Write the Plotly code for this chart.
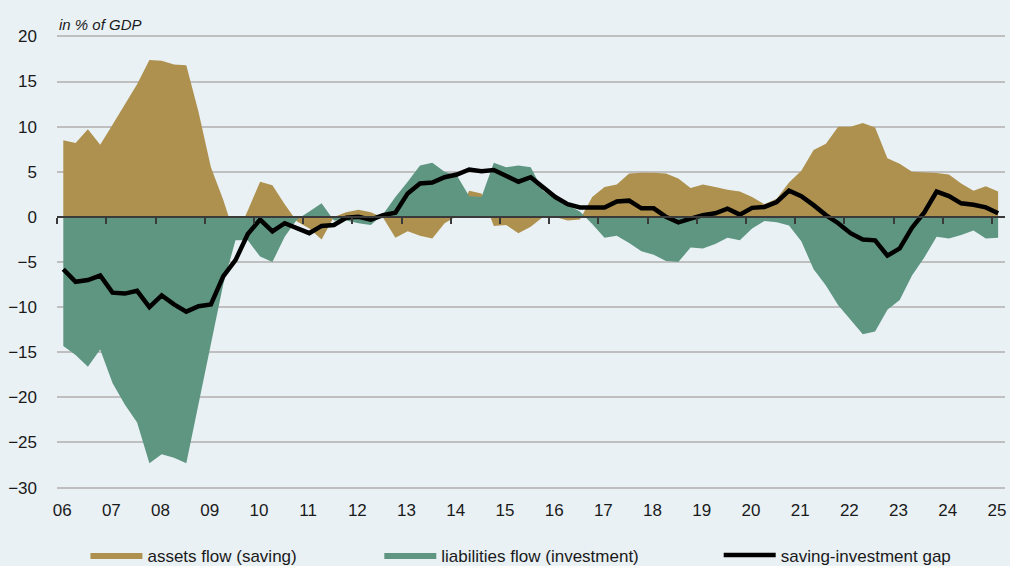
import plotly.graph_objects as go

# ---------------- data (quarterly, 2006Q1 .. 2025Q1, % of GDP) ----------------
start_year = 2006
n_quarters = 77
quarter_labels = [f"{start_year + i // 4}Q{i % 4 + 1}" for i in range(n_quarters)]

assets_flow = [
    8.5, 8.2, 9.7, 8.0, 10.2, 12.4, 14.7, 17.4, 17.3, 16.9, 16.8, 11.6, 5.5, 1.9,
    -2.3, 0.7, 3.9, 3.5, 1.4, -0.5, -1.3, -2.5, 0.0, 0.5, 0.8, 0.5, -0.1, -2.3,
    -1.6, -2.1, -2.4, -0.7, 0.1, 2.9, 2.6, -1.0, -0.9, -1.8, -1.1, 0.0, 0.0, -0.4,
    -0.3, 2.2, 3.3, 3.6, 4.8, 4.9, 4.9, 4.8, 4.25, 3.2, 3.6, 3.3, 3.0, 2.8, 2.2,
    1.4, 2.0, 3.8, 5.1, 7.4, 8.1, 10.0, 10.0, 10.4, 9.9, 6.5, 5.9, 5.0, 4.95,
    4.85, 4.7, 3.7, 2.9, 3.4, 2.8,
]
liabilities_flow = [
    -14.3, -15.3, -16.6, -14.7, -18.4, -20.8, -22.8, -27.3, -26.3, -26.7, -27.3,
    -20.7, -14.1, -7.5, -2.6, -2.6, -4.4, -5.0, -2.2, -0.3, 0.6, 1.5, -0.4, -0.4,
    -0.7, -0.9, 0.3, 2.2, 3.9, 5.7, 6.0, 5.0, 4.6, 2.3, 2.2, 6.0, 5.5, 5.7, 5.5,
    2.9, 2.0, 1.3, 0.6, -0.8, -2.3, -2.1, -2.9, -3.8, -4.2, -4.9, -5.0, -3.4,
    -3.5, -3.0, -2.3, -2.6, -1.3, -0.45, -0.6, -0.95, -2.7, -5.8, -7.6, -9.8,
    -11.4, -13.0, -12.7, -10.3, -9.2, -6.5, -4.5, -2.2, -2.4, -2.0, -1.5, -2.4,
    -2.3,
]
saving_investment_gap = [
    -5.8, -7.2, -7.0, -6.5, -8.4, -8.5, -8.2, -10.0, -8.7, -9.7, -10.5, -9.9,
    -9.7, -6.6, -4.8, -1.9, -0.3, -1.6, -0.7, -1.2, -1.8, -1.0, -0.9, -0.1, 0.0,
    -0.3, 0.2, 0.45, 2.6, 3.7, 3.8, 4.4, 4.7, 5.25, 5.05, 5.2, 4.5, 3.9, 4.4,
    3.3, 2.2, 1.4, 1.05, 1.05, 1.05, 1.7, 1.8, 0.95, 0.95, 0.0, -0.6, -0.2, 0.2,
    0.4, 0.9, 0.25, 1.0, 1.1, 1.65, 2.9, 2.3, 1.3, 0.2, -0.7, -1.8, -2.5, -2.6,
    -4.3, -3.5, -1.2, 0.5, 2.8, 2.3, 1.5, 1.35, 1.05, 0.4,
]

tick_years = list(range(2006, 2026))
tick_labels = [f"{y % 100:02d}" for y in tick_years]
y_ticks = [20, 15, 10, 5, 0, -5, -10, -15, -20, -25, -30]

series_names = ["assets flow (saving)", "liabilities flow (investment)",
                "saving-investment gap"]

# ---------------- styles ----------------
GOLD = "#AE914F"
TEAL = "#5F9682"
BG = "#E9F1F5"
GRID = "#BFBFBF"
TXT = "#1a1a1a"
FONT = "Liberation Sans, Arial, sans-serif"

# quarter mid-points in fractional years
x_vals = [start_year + (i + 0.5) / 4 for i in range(n_quarters)]

y_min, y_max = -30.6, 20.6
x_min, x_max = 2005.997, 2025.265
zero_pos = (0 - y_min) / (y_max - y_min)

fig = go.Figure()
fig.add_trace(go.Scatter(
    x=x_vals, y=assets_flow, name=series_names[0], mode="lines",
    fill="tozeroy", fillcolor=GOLD, line=dict(width=0, color=GOLD),
    text=quarter_labels, hoverinfo="text+y", legend="legend",
))
fig.add_trace(go.Scatter(
    x=x_vals, y=liabilities_flow, name=series_names[1], mode="lines",
    fill="tozeroy", fillcolor=TEAL, line=dict(width=0, color=TEAL),
    text=quarter_labels, hoverinfo="text+y", legend="legend2",
))
fig.add_trace(go.Scatter(
    x=x_vals, y=saving_investment_gap, name=series_names[2], mode="lines",
    line=dict(width=4.5, color="black"),
    text=quarter_labels, hoverinfo="text+y", legend="legend3",
))
# helper trace so the zero-line axis (x2) gets drawn
fig.add_trace(go.Scatter(x=[x_vals[0]], y=[None], xaxis="x2", showlegend=False,
                         hoverinfo="skip"))

leg_common = dict(orientation="h", yanchor="middle", y=-0.135, xanchor="left",
                  bgcolor="rgba(0,0,0,0)", font=dict(size=17, color=TXT, family=FONT),
                  itemwidth=52)

fig.update_layout(
    width=1010, height=566,
    paper_bgcolor=BG, plot_bgcolor=BG,
    margin=dict(l=57, r=5, t=31, b=73, autoexpand=False),
    font=dict(family=FONT, size=17, color=TXT),
    xaxis=dict(
        range=[x_min, x_max], tickvals=tick_years, ticktext=tick_labels,
        showgrid=False, zeroline=False, showline=False, ticks="",
        ticklabelstandoff=5, ticklabelshift=5,
        tickfont=dict(size=17, color=TXT),
    ),
    xaxis2=dict(
        overlaying="x", matches="x", anchor="free", position=zero_pos,
        tickvals=tick_years, showticklabels=False, showgrid=False, zeroline=False,
        showline=True, linecolor="#3a3a3a", linewidth=1.5,
        ticks="outside", ticklen=6, tickwidth=1.5, tickcolor="#3a3a3a",
    ),
    yaxis=dict(
        range=[y_min, y_max], tickvals=y_ticks, showgrid=True, gridcolor=GRID,
        gridwidth=1.5, zeroline=False, showline=False, ticks="",
        ticklabelstandoff=19, tickfont=dict(size=17, color=TXT),
    ),
    legend=dict(x=0.03, **leg_common),
    legend2=dict(x=0.34, **leg_common),
    legend3=dict(x=0.698, **leg_common),
    annotations=[dict(
        text="<i>in % of GDP</i>", xref="paper", yref="paper", x=0, y=1.0,
        xanchor="left", yanchor="bottom", yshift=-4, showarrow=False,
        font=dict(size=15, color=TXT, family=FONT),
    )],
    hovermode="closest",
)

fig.write_html(
    "out.html",
    config={"displayModeBar": False},
    post_script=(
        "document.body.style.margin='0';"
        "document.body.style.padding='0';"
        "document.body.style.background='" + BG + "';"
    ),
)
